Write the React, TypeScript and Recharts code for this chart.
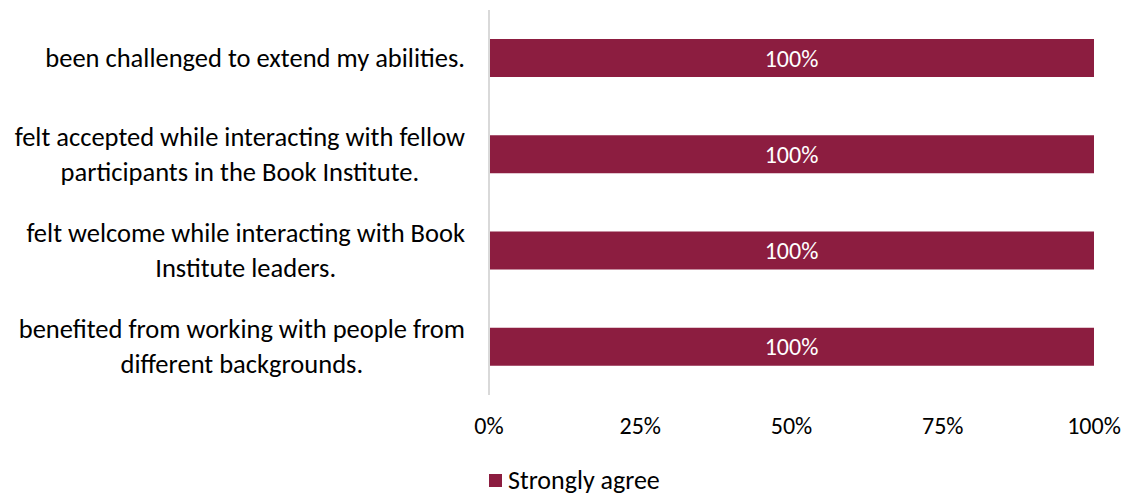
import * as React from "react";
import { BarChart, Bar, XAxis, YAxis, LabelList } from "recharts";

// 설문 항목 (줄바꿈은 원본 그대로)
const categories: string[][] = [
  ["been challenged to extend my abilities."],
  ["felt accepted while interacting with fellow", "participants in the Book Institute."],
  ["felt welcome while interacting with Book", "Institute leaders."],
  ["benefited from working with people from", "different backgrounds."],
];
const stronglyAgree = [1, 1, 1, 1];
const xTicks = [0, 0.25, 0.5, 0.75, 1];

const COLORS = {
  bar: "#8C1D40",
  axis: "#D9D9D9",
  text: "#000000",
};
const FONT = "Carlito, Lato, 'Open Sans', sans-serif";

const data = categories.map((lines, i) => ({
  name: lines.join(" "),
  idx: i,
  agree: stronglyAgree[i],
}));

const pct = (v: number) => `${Math.round(v * 100)}%`;

let ctx: CanvasRenderingContext2D | null = null;
function textWidth(s: string, size: number) {
  if (!ctx) ctx = document.createElement("canvas").getContext("2d");
  if (!ctx) return s.length * size * 0.5;
  ctx.font = `${size}px ${FONT}`;
  return ctx.measureText(s).width;
}

/** 여러 줄 라벨: 블록은 오른쪽 정렬, 줄은 가운데 정렬 */
function CategoryTick(props: any) {
  const { y, payload } = props;
  const lines = categories[payload.index] ?? [String(payload.value)];
  const size = 26.5;
  const lh = 35;
  const w = Math.max(...lines.map((l) => textWidth(l, size)));
  const cx = 465 - w / 2;
  const y0 = y - ((lines.length - 1) * lh) / 2;
  return (
    <g>
      {lines.map((l, i) => (
        <text
          key={i}
          x={cx}
          y={y0 + i * lh}
          textAnchor="middle"
          dominantBaseline="central"
          fontSize={size}
          fontFamily={FONT}
          fill={COLORS.text}
        >
          {l}
        </text>
      ))}
    </g>
  );
}

function PctTick(props: any) {
  const { x, y, payload } = props;
  return (
    <text
      x={x}
      y={y + 30}
      textAnchor="middle"
      dominantBaseline="central"
      fontSize={24}
      fontFamily={FONT}
      fill={COLORS.text}
    >
      {pct(payload.value)}
    </text>
  );
}

export default function App() {
  return (
    <div style={{ position: "relative", width: 1125, height: 494, background: "#fff", overflow: "hidden" }}>
      <style>{"body{margin:0}"}</style>
      <BarChart
        width={1125}
        height={494}
        data={data}
        layout="vertical"
        margin={{ top: 10, right: 31, bottom: 69, left: 0 }}
        barCategoryGap={29}
      >
        <XAxis
          type="number"
          domain={[0, 1]}
          ticks={xTicks}
          height={30}
          axisLine={false}
          tickLine={false}
          tickSize={0}
          tickMargin={0}
          tick={<PctTick />}
          interval={0}
        />
        <YAxis
          type="category"
          dataKey="name"
          width={489}
          axisLine={{ stroke: COLORS.axis, strokeWidth: 2 }}
          tickLine={false}
          tick={<CategoryTick />}
          interval={0}
        />
        <Bar dataKey="agree" name="Strongly agree" fill={COLORS.bar} isAnimationActive={false}>
          <LabelList
            dataKey="agree"
            position="center"
            formatter={(v: number) => pct(v)}
            style={{ fontSize: 24, fontFamily: FONT, fill: "#fff" }}
          />
        </Bar>
      </BarChart>
      {/* 범례 */}
      <div
        style={{
          position: "absolute",
          top: 468,
          left: 489,
          height: 24,
          display: "flex",
          alignItems: "center",
          fontFamily: FONT,
          fontSize: 26,
          lineHeight: "24px",
        }}
      >
        <span style={{ width: 13, height: 13, background: COLORS.bar, marginRight: 6 }} />
        <span>Strongly agree</span>
      </div>
    </div>
  );
}
